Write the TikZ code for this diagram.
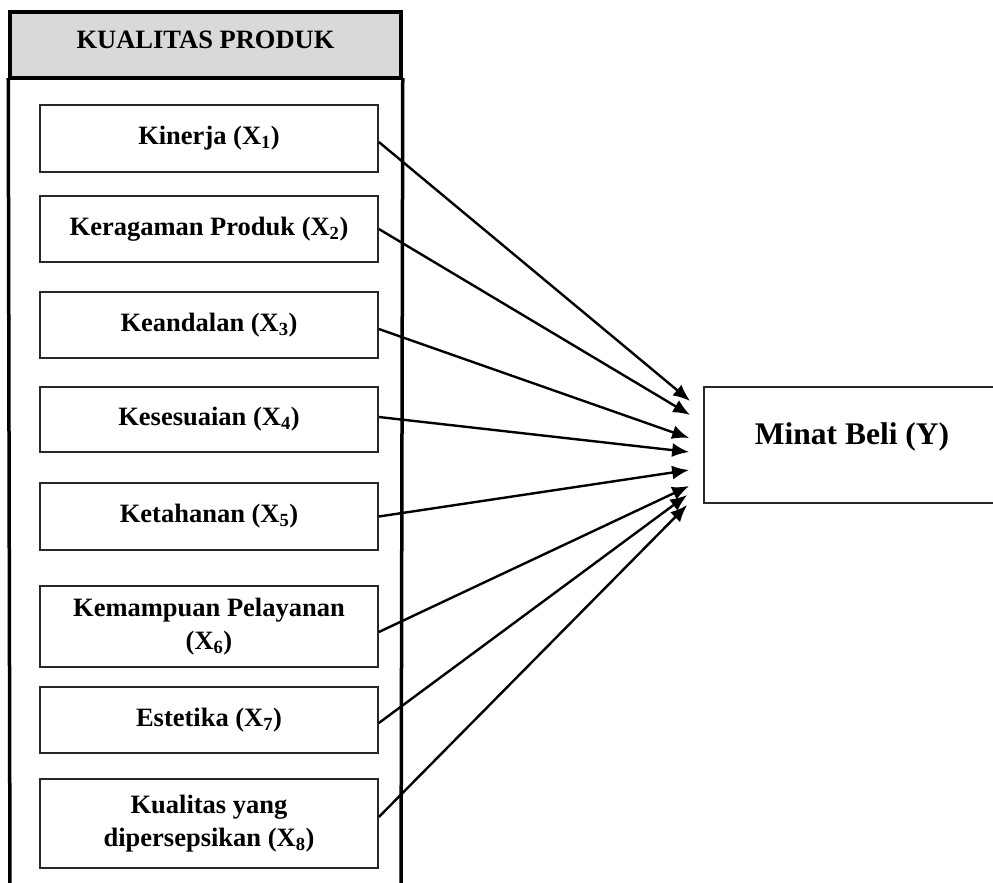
\documentclass[tikz,border=0pt]{standalone}
\usepackage{fontspec}
\setmainfont{Liberation Serif}
\usetikzlibrary{arrows.meta,calc}
\definecolor{hdrgray}{RGB}{217,217,217}
\definecolor{boxline}{RGB}{40,40,40}
\tikzset{
  varbox/.style={draw=boxline, line width=1.7pt, minimum width=338pt, inner sep=2pt,
    align=center, font=\fontsize{26.5}{33}\selectfont\bfseries},
  frameline/.style={line width=3.5pt, line cap=rect},
  hdrbox/.style={draw, fill=hdrgray, line width=3.5pt, minimum width=391pt, minimum height=66pt, inner sep=0pt},
  lbl/.style={font=\fontsize{26.5}{33}\selectfont\bfseries, inner sep=0pt},
  ybox/.style={draw=boxline, line width=1.7pt, minimum width=300pt, minimum height=116pt, inner sep=0pt},
  link/.style={line width=2.4pt, -{Latex[length=17pt,width=14pt]}}
}
\begin{document}
\begin{tikzpicture}[x=1pt,y=-1pt]
\useasboundingbox (0,0) rectangle (993,883);
\begin{scope}
\clip (0,0) rectangle (993,883);
% outer frame
\node[hdrbox] (h) at (205.5,45) {};
\node[lbl] (htext) at (205.5,40) {KUALITAS PRODUK};
\coordinate (bl) at (10,900);
\coordinate (br) at (401,900);
\draw[frameline] (h.south west) -- (bl);
\draw[frameline] (h.south east) -- (br);
% variable boxes
\node[varbox, minimum height=67pt] (b1) at (209,138.5) {Kinerja (X\textsubscript{1})};
\node[varbox, minimum height=66pt] (b2) at (209,229) {Keragaman Produk (X\textsubscript{2})};
\node[varbox, minimum height=66pt] (b3) at (209,325) {Keandalan (X\textsubscript{3})};
\node[varbox, minimum height=65pt] (b4) at (209,419.5) {Kesesuaian (X\textsubscript{4})};
\node[varbox, minimum height=67pt] (b5) at (209,516.5) {Ketahanan (X\textsubscript{5})};
\node[varbox, minimum height=81pt] (b6) at (209,626.5) {Kemampuan Pelayanan\\(X\textsubscript{6})};
\node[varbox, minimum height=66pt] (b7) at (209,720) {Estetika (X\textsubscript{7})};
\node[varbox, minimum height=89pt] (b8) at (209,823.5) {Kualitas yang\\dipersepsikan (X\textsubscript{8})};
% dependent variable
\node[ybox] (y) at (854,445) {};
\node[lbl, font=\fontsize{31.5}{36}\selectfont\bfseries] (ytext) at (852,437) {Minat Beli (Y)};
\coordinate (t1) at ($(y.west)+(-13,-44)$);
\coordinate (t2) at ($(y.west)+(-13,-30)$);
\coordinate (t3) at ($(y.west)+(-14,-7)$);
\coordinate (t4) at ($(y.west)+(-14,7)$);
\coordinate (t5) at ($(y.west)+(-14,25)$);
\coordinate (t6) at ($(y.west)+(-14,41)$);
\coordinate (t7) at ($(y.west)+(-16,50)$);
\coordinate (t8) at ($(y.west)+(-16,60)$);
% arrows
\draw[link] ([yshift=-3.5pt]b1.east) -- (t1);
\draw[link] (b2.east) -- (t2);
\draw[link] ([yshift=-4pt]b3.east) -- (t3);
\draw[link] ([yshift=2.5pt]b4.east) -- (t4);
\draw[link] (b5.east) -- (t5);
\draw[link] ([yshift=-5.5pt]b6.east) -- (t6);
\draw[link] ([yshift=-3pt]b7.east) -- (t7);
\draw[link] ([yshift=6.5pt]b8.east) -- (t8);
\end{scope}
\end{tikzpicture}
\end{document}
